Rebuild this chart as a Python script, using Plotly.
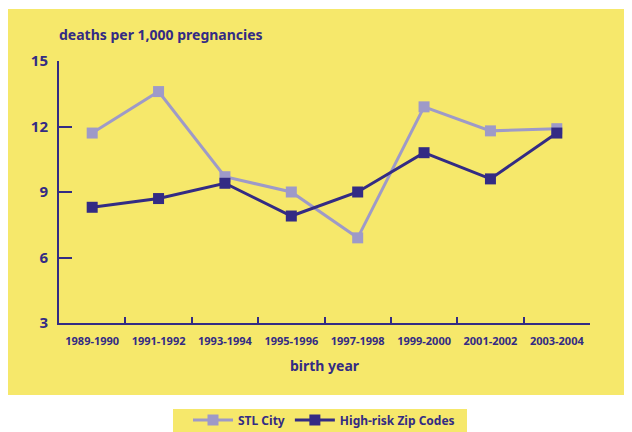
import plotly.graph_objects as go

categories = ["1989-1990", "1991-1992", "1993-1994", "1995-1996",
              "1997-1998", "1999-2000", "2001-2002", "2003-2004"]
stl_city = [11.7, 13.6, 9.7, 9.0, 6.9, 12.9, 11.8, 11.9]
high_risk = [8.3, 8.7, 9.4, 7.9, 9.0, 10.8, 9.6, 11.7]
y_ticks = [3, 6, 9, 12, 15]

NAVY = "#332B84"
LAV = "#9E9AC8"
YELLOW = "#F6E86B"
FONT = "Noto Sans"

fig = go.Figure()
fig.add_trace(go.Scatter(
    x=categories, y=stl_city, name="STL City", mode="lines+markers",
    line=dict(color=LAV, width=3),
    marker=dict(symbol="square", size=11, color=LAV),
))
fig.add_trace(go.Scatter(
    x=categories, y=high_risk, name="High-risk Zip Codes", mode="lines+markers",
    line=dict(color=NAVY, width=3),
    marker=dict(symbol="square", size=11, color=NAVY),
))

W, H = 632, 432
OFF = 8  # page offset of the figure in the screenshot
# plot area in screenshot coordinates
SX0, SX1, SY0, SY1 = 59, 590, 61, 323
L = SX0 - OFF
R = W - (SX1 - OFF)
T = SY0 - OFF
B = H - (SY1 - OFF)
pw, ph = W - L - R, H - T - B

def px(sx):
    return (sx - OFF - L) / pw

def py(sy):
    return (H - B - (sy - OFF)) / ph

shapes = [
    dict(type="rect", xref="paper", yref="paper", layer="below",
         x0=px(0), x1=px(650), y0=py(395), y1=py(9),
         fillcolor=YELLOW, line=dict(width=0)),
    dict(type="rect", xref="paper", yref="paper", layer="below",
         x0=px(173), x1=px(467), y0=py(432), y1=py(409),
         fillcolor=YELLOW, line=dict(width=0)),
]

fig.update_layout(
    width=W, height=H,
    margin=dict(l=L, r=R, t=T, b=B, pad=0, autoexpand=False),
    paper_bgcolor="white",
    plot_bgcolor="rgba(0,0,0,0)",
    font=dict(family=FONT, color=NAVY, weight="bold"),
    shapes=shapes,
    showlegend=True,
    legend=dict(
        orientation="h", xref="container", yref="container",
        x=(188 - OFF) / W, xanchor="left", y=1 - (420 - OFF) / H, yanchor="middle",
        bgcolor="rgba(0,0,0,0)", font=dict(size=12, color=NAVY, weight="bold"),
        itemwidth=40, tracegroupgap=0,
    ),
    xaxis=dict(
        type="category", range=[-0.5, 7.5], automargin=False,
        showgrid=False, zeroline=False,
        showline=True, linecolor=NAVY, linewidth=2,
        ticks="inside", tickson="boundaries", ticklen=6, tickwidth=2, tickcolor=NAVY,
        tickfont=dict(size=11, color=NAVY, weight="bold"),
        ticklabelstandoff=7,
        title=dict(text="birth year", font=dict(size=14, color=NAVY, weight="bold"), standoff=14),
    ),
    yaxis=dict(
        range=[3, 15], tickvals=y_ticks, automargin=False,
        showgrid=False, zeroline=False,
        showline=True, linecolor=NAVY, linewidth=2,
        ticks="inside", ticklen=13, tickwidth=2, tickcolor=NAVY,
        tickfont=dict(size=15, color=NAVY, weight="bold"),
        ticklabelstandoff=6,
    ),
    annotations=[dict(
        text="deaths per 1,000 pregnancies", xref="paper", yref="paper",
        x=px(57), y=py(34), xanchor="left", yanchor="middle", showarrow=False,
        font=dict(size=14, color=NAVY, weight="bold"),
    )],
)

fig.write_html("out.html")
